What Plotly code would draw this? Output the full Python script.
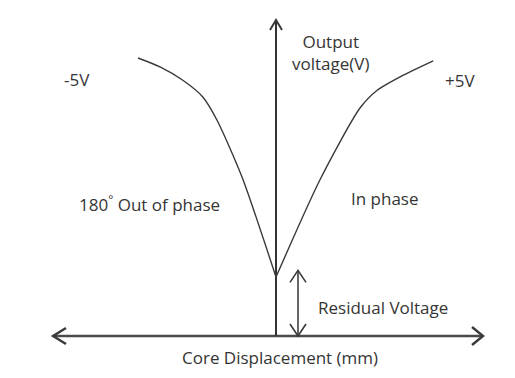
import plotly.graph_objects as go

# ---- data (displacement in mm, output voltage in V) ----
left_disp = [-3.45, -2.9, -2.33, -1.83, -1.48, -0.85, 0.0]
left_volt = [5.00, 4.84, 4.60, 4.30, 3.89, 2.86, 1.06]
right_disp = [0.0, 1.10, 2.10, 2.53, 3.18, 3.93]
right_volt = [1.06, 2.81, 4.10, 4.42, 4.69, 4.95]
residual_voltage = 1.18
residual_x = 0.55

# ---- geometry helpers ----
W, H = 515, 378
X0_PX, Y0_PX = 276, 336      # pixel position of origin
SX, SY = 40.0, 55.6          # pixels per mm, pixels per V
xr = [(0 - X0_PX) / SX, (W - X0_PX) / SX]
yr = [(Y0_PX - H) / SY, (Y0_PX - 0) / SY]

def px(xp, yp):
    return (xp - X0_PX) / SX, (Y0_PX - yp) / SY

LINE = "#3a3a3a"
TXT = "#353535"
FONT = "Open Sans"

fig = go.Figure()

def seg(pts, width, color=LINE):
    xs = [p[0] for p in pts]
    ys = [p[1] for p in pts]
    fig.add_trace(go.Scatter(x=xs, y=ys, mode="lines", line=dict(color=color, width=width),
                             hoverinfo="skip", showlegend=False))

def chevron(tip, dirx, diry, length_px=12, half_px=7, width=2.2):
    tx = X0_PX + tip[0] * SX
    ty = Y0_PX - tip[1] * SY
    bx, by = tx - dirx * length_px, ty - diry * length_px
    nx, ny = -diry, dirx
    a = px(bx + nx * half_px, by + ny * half_px)
    b = px(bx - nx * half_px, by - ny * half_px)
    seg([a, tip, b], width)

# axes
x_left, x_right = px(53, 0)[0], px(483, 0)[0]
y_top = px(0, 20)[1]
seg([(x_left, 0), (x_right, 0)], 2.6, "#4a4a4a")
seg([(0, 0), (0, y_top)], 2.0, "#333333")
chevron((x_left, 0), -1, 0, 13, 8, 2.4)
chevron((x_right, 0), 1, 0, 11, 9, 2.4)
chevron((0, y_top), 0, -1, 10, 6, 2.0)

# curve
fig.add_trace(go.Scatter(x=left_disp, y=left_volt, mode="lines",
                         line=dict(color=LINE, width=1.4, shape="spline", smoothing=0.7),
                         hoverinfo="skip", showlegend=False))
fig.add_trace(go.Scatter(x=right_disp, y=right_volt, mode="lines",
                         line=dict(color=LINE, width=1.4, shape="spline", smoothing=0.7),
                         hoverinfo="skip", showlegend=False))

# residual voltage double arrow
seg([(residual_x, 0), (residual_x, residual_voltage)], 1.8, "#555555")
chevron((residual_x, residual_voltage), 0, -1, 12, 8, 1.6)
chevron((residual_x, 0), 0, 1, 12, 8, 1.6)

def label(text, xp, yp, xanchor="left", size=17):
    x, y = px(xp, yp)
    fig.add_annotation(x=x, y=y, text=text, showarrow=False, xanchor=xanchor, yanchor="middle",
                       font=dict(family=FONT, size=size, color=TXT))

label("-5V", 62, 79)
label("+5V", 443, 80)
label("Output<br>voltage(V)", 290, 52)
label("180<sup>°</sup> Out of phase", 77, 203)
label("In phase", 349, 198)
label("Residual Voltage", 316, 307)
label("Core Displacement (mm)", 280, 357, xanchor="center")

fig.update_layout(
    width=W, height=H, margin=dict(l=0, r=0, t=0, b=0),
    paper_bgcolor="white", plot_bgcolor="white",
    xaxis=dict(range=xr, visible=False, fixedrange=True),
    yaxis=dict(range=yr, visible=False, fixedrange=True),
)
fig.write_html("out.html")
